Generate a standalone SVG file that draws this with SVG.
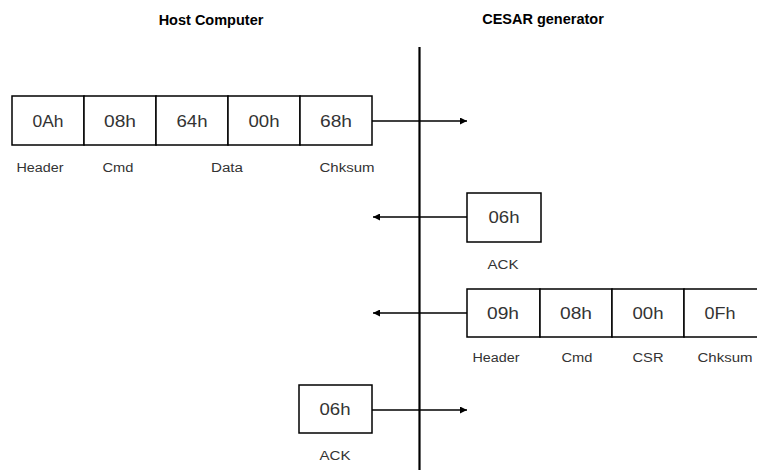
<svg xmlns="http://www.w3.org/2000/svg" width="757" height="470" viewBox="0 0 757 470">
<defs>
<style>
.title{font-family:"Liberation Sans",Arial,sans-serif;font-weight:bold;font-size:14.5px;fill:#000;text-anchor:middle}
.box{fill:#fff;stroke:#000;stroke-width:1.5}
.val{font-family:"Liberation Sans",Arial,sans-serif;font-size:16px;fill:#333;text-anchor:middle}
.lbl{font-family:"Liberation Sans",Arial,sans-serif;font-size:12px;fill:#333;text-anchor:middle}
.conn{stroke:#000;stroke-width:1.5;fill:none}
</style>
<marker id="ah" viewBox="0 0 10 10" refX="10" refY="5" markerWidth="5" markerHeight="5" markerUnits="userSpaceOnUse" orient="auto">
<path d="M0,0 L10,5 L0,10 z" fill="#000"/>
</marker>
<marker id="ah2" viewBox="0 0 10 10" refX="10" refY="5" markerWidth="7" markerHeight="7" markerUnits="userSpaceOnUse" orient="auto">
<path d="M0,0 L10,5 L0,10 z" fill="#000"/>
</marker>
</defs>
<g id="titles">
<text class="title" x="211" y="25">Host Computer</text>
<text class="title" x="543" y="24">CESAR generator</text>
</g>
<g id="connectors">
<line x1="419.5" y1="47" x2="419.5" y2="470" stroke="#000" stroke-width="2.2"/>
<line class="conn" x1="372" y1="121" x2="467" y2="121" marker-end="url(#ah2)"/>
<line class="conn" x1="467" y1="217" x2="373" y2="217" marker-end="url(#ah2)"/>
<line class="conn" x1="467" y1="313" x2="373" y2="313" marker-end="url(#ah2)"/>
<line class="conn" x1="372" y1="410" x2="467" y2="410" marker-end="url(#ah2)"/>
</g>
<g id="host-packet">
<rect class="box" x="12" y="96" width="72" height="49"/>
<rect class="box" x="84" y="96" width="72" height="49"/>
<rect class="box" x="156" y="96" width="72" height="49"/>
<rect class="box" x="228" y="96" width="72" height="49"/>
<rect class="box" x="300" y="96" width="72" height="49"/>
<text class="val" x="48" y="127" textLength="31" lengthAdjust="spacingAndGlyphs">0Ah</text>
<text class="val" x="120" y="127" textLength="32" lengthAdjust="spacingAndGlyphs">08h</text>
<text class="val" x="192" y="127" textLength="31" lengthAdjust="spacingAndGlyphs">64h</text>
<text class="val" x="264" y="127" textLength="31" lengthAdjust="spacingAndGlyphs">00h</text>
<text class="val" x="336" y="127" textLength="32" lengthAdjust="spacingAndGlyphs">68h</text>
<text class="lbl" x="40" y="172" textLength="47" lengthAdjust="spacingAndGlyphs">Header</text>
<text class="lbl" x="118" y="172" textLength="31" lengthAdjust="spacingAndGlyphs">Cmd</text>
<text class="lbl" x="227" y="172" textLength="32" lengthAdjust="spacingAndGlyphs">Data</text>
<text class="lbl" x="347" y="172" textLength="55" lengthAdjust="spacingAndGlyphs">Chksum</text>
</g>
<g id="ack1">
<rect class="box" x="467" y="193" width="74" height="49"/>
<text class="val" x="504" y="223" textLength="31" lengthAdjust="spacingAndGlyphs">06h</text>
<text class="lbl" x="503" y="269" textLength="31" lengthAdjust="spacingAndGlyphs">ACK</text>
</g>
<g id="cesar-packet">
<rect class="box" x="467" y="289" width="73" height="48"/>
<rect class="box" x="540" y="289" width="72" height="48"/>
<rect class="box" x="612" y="289" width="72" height="48"/>
<rect class="box" x="684" y="289" width="74" height="48"/>
<text class="val" x="503" y="319" textLength="32" lengthAdjust="spacingAndGlyphs">09h</text>
<text class="val" x="576" y="319" textLength="32" lengthAdjust="spacingAndGlyphs">08h</text>
<text class="val" x="648" y="319" textLength="31" lengthAdjust="spacingAndGlyphs">00h</text>
<text class="val" x="720" y="319" textLength="31" lengthAdjust="spacingAndGlyphs">0Fh</text>
<text class="lbl" x="496" y="362" textLength="47" lengthAdjust="spacingAndGlyphs">Header</text>
<text class="lbl" x="577" y="362" textLength="31" lengthAdjust="spacingAndGlyphs">Cmd</text>
<text class="lbl" x="648" y="362" textLength="31" lengthAdjust="spacingAndGlyphs">CSR</text>
<text class="lbl" x="725" y="362" textLength="55" lengthAdjust="spacingAndGlyphs">Chksum</text>
</g>
<g id="ack2">
<rect class="box" x="299" y="385" width="73" height="48"/>
<text class="val" x="335" y="415" textLength="31" lengthAdjust="spacingAndGlyphs">06h</text>
<text class="lbl" x="335" y="460" textLength="31" lengthAdjust="spacingAndGlyphs">ACK</text>
</g>
</svg>
